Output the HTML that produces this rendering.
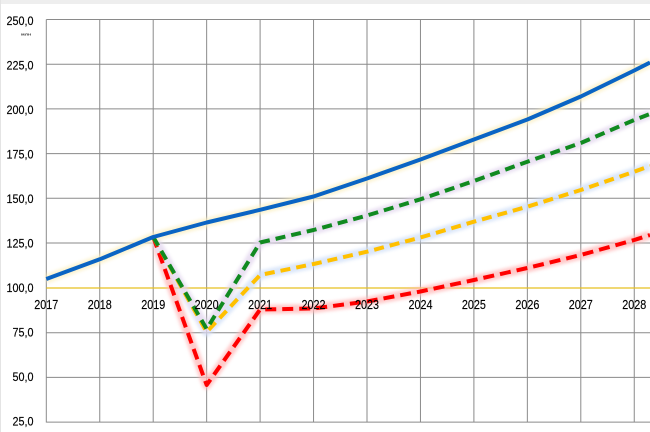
<!DOCTYPE html>
<html><head><meta charset="utf-8"><style>
html,body{margin:0;padding:0;background:#fff;}
svg{display:block;font-family:"Liberation Sans","DejaVu Sans",sans-serif;}
</style></head><body>
<svg width="650" height="432" viewBox="0 0 650 432" xmlns="http://www.w3.org/2000/svg">
<defs>
<filter id="gl" x="-5%" y="-20%" width="110%" height="140%"><feGaussianBlur stdDeviation="1.6"/></filter>
</defs>
<rect x="0" y="0" width="650" height="432" fill="#fff"/>
<rect x="0" y="0" width="650" height="4" fill="#eeeeee"/>
<rect x="0" y="0" width="1" height="432" fill="#e4e4e4"/>

<!-- horizontal gridlines -->
<g stroke="#8a8a8a" stroke-width="1">
<line x1="46.3" y1="19.5" x2="650" y2="19.5"/>
<line x1="46.3" y1="64.2" x2="650" y2="64.2"/>
<line x1="46.3" y1="108.9" x2="650" y2="108.9"/>
<line x1="46.3" y1="153.6" x2="650" y2="153.6"/>
<line x1="46.3" y1="198.3" x2="650" y2="198.3"/>
<line x1="46.3" y1="243" x2="650" y2="243"/>
<line x1="46.3" y1="332.7" x2="650" y2="332.7"/>
<line x1="46.3" y1="377.4" x2="650" y2="377.4"/>
<line x1="46.3" y1="422.1" x2="650" y2="422.1"/>
</g>
<!-- vertical gridlines -->
<g stroke="#8a8a8a" stroke-width="1">
<line x1="46.3" y1="19.5" x2="46.3" y2="422.5"/>
<line x1="99.75" y1="19.5" x2="99.75" y2="422.5"/>
<line x1="153.2" y1="19.5" x2="153.2" y2="422.5"/>
<line x1="206.65" y1="19.5" x2="206.65" y2="422.5"/>
<line x1="260.1" y1="19.5" x2="260.1" y2="422.5"/>
<line x1="313.55" y1="19.5" x2="313.55" y2="422.5"/>
<line x1="367" y1="19.5" x2="367" y2="422.5"/>
<line x1="420.45" y1="19.5" x2="420.45" y2="422.5"/>
<line x1="473.9" y1="19.5" x2="473.9" y2="422.5"/>
<line x1="527.35" y1="19.5" x2="527.35" y2="422.5"/>
<line x1="580.8" y1="19.5" x2="580.8" y2="422.5"/>
<line x1="634.25" y1="19.5" x2="634.25" y2="422.5"/>
</g>
<!-- 100 axis line -->
<line x1="46.3" y1="288" x2="650" y2="288" stroke="#e8c020" stroke-width="1.2"/>

<!-- glows -->
<g fill="none" stroke-width="9" stroke-linejoin="round" filter="url(#gl)" opacity="0.75">
<polyline stroke="#ffb8b8" points="153.2,237 206.65,385 260.1,309.5 313.55,308.5 367,301.5 420.45,291.5 473.9,280 527.35,268 580.8,255 634.25,240 650,235"/>
<polyline stroke="#cfdff8" points="153.2,237 206.65,332 260.1,275 313.55,264 367,251.7 420.45,237.5 473.9,221.7 527.35,206.7 580.8,190 634.25,171.7 650,166"/>
<polyline stroke="#e2d6ee" points="153.2,237 206.65,329 260.1,242.5 313.55,230 367,215.5 420.45,199.3 473.9,181 527.35,161.7 580.8,143 634.25,120 650,114"/>
<polyline stroke="#fbefc0" points="46.3,279 99.75,259.3 153.2,237 206.65,222.5 260.1,209.8 313.55,196.5 367,178.5 420.45,159.5 473.9,139.5 527.35,119.5 580.8,96.5 634.25,70.5 650,62.5"/>
</g>

<!-- series -->
<g fill="none" stroke-width="4" stroke-linejoin="round">
<polyline stroke="#ff0000" stroke-dasharray="11 6" points="153.2,237 206.65,385 260.1,309.5 313.55,308.5 367,301.5 420.45,291.5 473.9,280 527.35,268 580.8,255 634.25,240 650,235"/>
<polyline stroke="#ffc000" stroke-dasharray="10 6" points="153.2,237 206.65,332 260.1,275 313.55,264 367,251.7 420.45,237.5 473.9,221.7 527.35,206.7 580.8,190 634.25,171.7 650,166"/>
<polyline stroke="#108a20" stroke-dasharray="10 6" points="153.2,237 206.65,329 260.1,242.5 313.55,230 367,215.5 420.45,199.3 473.9,181 527.35,161.7 580.8,143 634.25,120 650,114"/>
<polyline stroke="#0a64c4" points="46.3,279 99.75,259.3 153.2,237 206.65,222.5 260.1,209.8 313.55,196.5 367,178.5 420.45,159.5 473.9,139.5 527.35,119.5 580.8,96.5 634.25,70.5 650,62.5"/>
</g>

<!-- y labels -->
<g font-size="12" fill="#000" stroke="#000" stroke-width="0.15" text-anchor="end">
<text x="33.5" y="25" textLength="27" lengthAdjust="spacingAndGlyphs">250,0</text>
<text x="33.5" y="69.5" textLength="27" lengthAdjust="spacingAndGlyphs">225,0</text>
<text x="33.5" y="114" textLength="27" lengthAdjust="spacingAndGlyphs">200,0</text>
<text x="33.5" y="158.5" textLength="27" lengthAdjust="spacingAndGlyphs">175,0</text>
<text x="33.5" y="203" textLength="27" lengthAdjust="spacingAndGlyphs">150,0</text>
<text x="33.5" y="247.5" textLength="27" lengthAdjust="spacingAndGlyphs">125,0</text>
<text x="33.5" y="292" textLength="27" lengthAdjust="spacingAndGlyphs">100,0</text>
<text x="33.5" y="336.5" textLength="21" lengthAdjust="spacingAndGlyphs">75,0</text>
<text x="33.5" y="381" textLength="21" lengthAdjust="spacingAndGlyphs">50,0</text>
<text x="33.5" y="425.5" textLength="21" lengthAdjust="spacingAndGlyphs">25,0</text>
</g>
<text x="21" y="35.5" font-size="4" font-weight="bold" fill="#333" textLength="10" lengthAdjust="spacingAndGlyphs">млн</text>

<!-- x labels -->
<g font-size="13" fill="#000" stroke="#000" stroke-width="0.15" text-anchor="middle">
<text x="46.3" y="309" textLength="24" lengthAdjust="spacingAndGlyphs">2017</text>
<text x="99.75" y="309" textLength="24" lengthAdjust="spacingAndGlyphs">2018</text>
<text x="153.2" y="309" textLength="24" lengthAdjust="spacingAndGlyphs">2019</text>
<text x="206.65" y="309" textLength="24" lengthAdjust="spacingAndGlyphs">2020</text>
<text x="260.1" y="309" textLength="24" lengthAdjust="spacingAndGlyphs">2021</text>
<text x="313.55" y="309" textLength="24" lengthAdjust="spacingAndGlyphs">2022</text>
<text x="367" y="309" textLength="24" lengthAdjust="spacingAndGlyphs">2023</text>
<text x="420.45" y="309" textLength="24" lengthAdjust="spacingAndGlyphs">2024</text>
<text x="473.9" y="309" textLength="24" lengthAdjust="spacingAndGlyphs">2025</text>
<text x="527.35" y="309" textLength="24" lengthAdjust="spacingAndGlyphs">2026</text>
<text x="580.8" y="309" textLength="24" lengthAdjust="spacingAndGlyphs">2027</text>
<text x="634.25" y="309" textLength="24" lengthAdjust="spacingAndGlyphs">2028</text>
</g>
</svg>
</body></html>
